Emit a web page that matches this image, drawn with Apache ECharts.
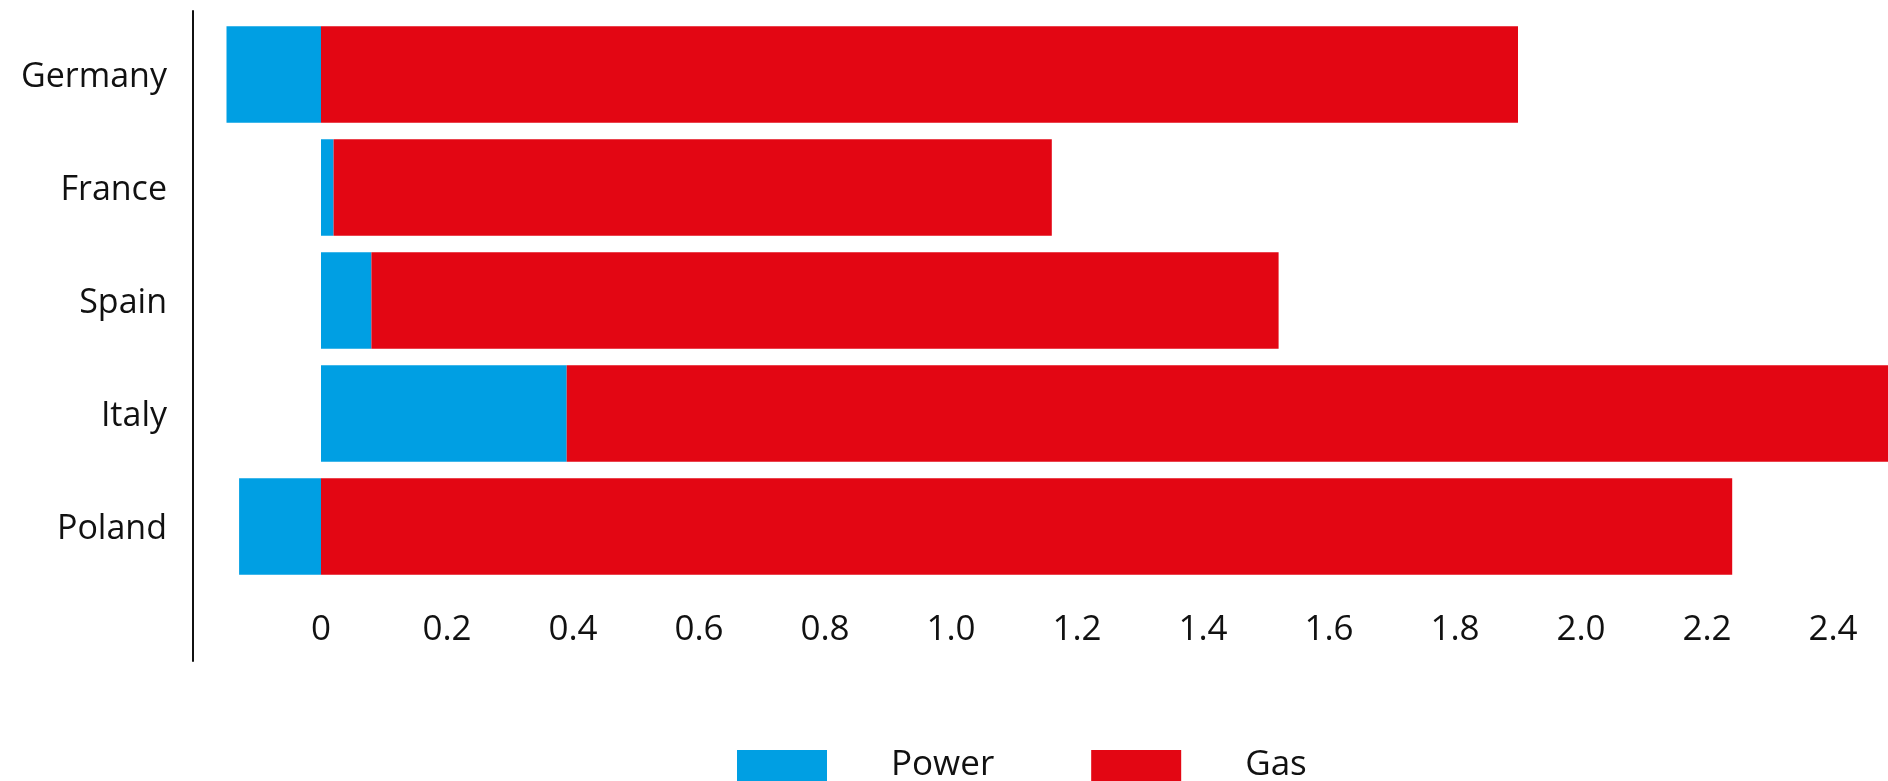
<!DOCTYPE html>
<html>
<head>
<meta charset="utf-8">
<style>
  html, body { margin: 0; padding: 0; background: #ffffff; }
  #chart { width: 1888px; height: 781px; }
</style>
<script src="https://cdn.jsdelivr.net/npm/echarts@6/dist/echarts.min.js"></script>
</head>
<body>
<div id="chart"></div>
<script>
// Categories, top to bottom
const countries = ['Germany', 'France', 'Spain', 'Italy', 'Poland'];
// Contribution per country
const powerValues = [-0.15, 0.02, 0.08, 0.39, -0.13];
const gasValues = [1.90, 1.14, 1.44, 2.20, 2.24];
// Value axis range and step
const axisMin = -0.2;
const axisMax = 2.5;
const axisStep = 0.2;

const FONT = '"Open Sans", "Noto Sans", sans-serif';
const BLUE = '#009FE3';
const RED = '#E30613';

const chart = echarts.init(document.getElementById('chart'), null, { renderer: 'canvas' });

chart.setOption({
  animation: false,
  backgroundColor: '#ffffff',
  textStyle: { fontFamily: FONT },
  grid: [
    // Plot area runs past the right edge so the longest bar is cut off
    { left: 195, width: 1701, top: 18, height: 565, containLabel: false, outerBoundsMode: 'none' },
    // Holds only the vertical rule on the left
    { left: 193, width: 1, top: 11, height: 650, containLabel: false, outerBoundsMode: 'none' }
  ],
  legend: {
    data: ['Power', 'Gas'],
    left: 737,
    top: 748,
    padding: 0,
    icon: 'rect',
    itemWidth: 90,
    itemHeight: 31,
    itemGap: 97,
    selectedMode: false,
    textStyle: {
      fontFamily: FONT,
      fontSize: 35,
      color: '#111111',
      padding: [0, 0, 0, 59]
    }
  },
  xAxis: [
    {
      type: 'value',
      gridIndex: 0,
      min: axisMin,
      max: axisMax,
      interval: axisStep,
      axisLine: { show: false },
      axisTick: { show: false },
      splitLine: { show: false },
      axisLabel: {
        showMinLabel: false,
        showMaxLabel: false,
        margin: 30,
        fontFamily: FONT,
        fontSize: 35,
        color: '#111111',
        formatter: function (v) { return Math.abs(v) < 1e-9 ? '0' : v.toFixed(1); }
      }
    },
    { type: 'value', gridIndex: 1, show: false }
  ],
  yAxis: [
    {
      type: 'category',
      gridIndex: 0,
      data: countries,
      inverse: true,
      axisLine: { show: false },
      axisTick: { show: false },
      splitLine: { show: false },
      axisLabel: {
        margin: 28,
        fontFamily: FONT,
        fontSize: 34,
        color: '#111111',
        formatter: function (name) { return '{c|' + name + '}'; },
        rich: {
          c: {
            fontFamily: FONT,
            fontSize: 34,
            color: '#111111',
            padding: [6, 0, 0, 0]
          }
        }
      }
    },
    {
      type: 'value',
      gridIndex: 1,
      axisLine: { show: true, lineStyle: { color: '#111111', width: 2 } },
      axisTick: { show: false },
      axisLabel: { show: false },
      splitLine: { show: false }
    }
  ],
  series: [
    {
      name: 'Power',
      type: 'bar',
      stack: 'total',
      xAxisIndex: 0,
      yAxisIndex: 0,
      data: powerValues,
      barCategoryGap: '14.4%',
      itemStyle: { color: BLUE }
    },
    {
      name: 'Gas',
      type: 'bar',
      stack: 'total',
      xAxisIndex: 0,
      yAxisIndex: 0,
      data: gasValues,
      barCategoryGap: '14.4%',
      itemStyle: { color: RED }
    }
  ]
});
</script>
</body>
</html>
